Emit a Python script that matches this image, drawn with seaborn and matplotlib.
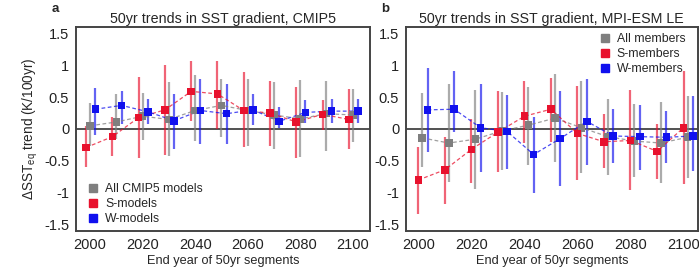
import numpy as np
import pandas as pd
import seaborn as sns
import matplotlib
matplotlib.use("Agg")
import matplotlib.pyplot as plt
from matplotlib.lines import Line2D
from matplotlib.ticker import MultipleLocator, FormatStrFormatter

years = [2000, 2010, 2020, 2030, 2040, 2050, 2060, 2070, 2080, 2090, 2100]

# panel a, CMIP5: central value, lower and upper end of the bar
cmip_all = [0.05, 0.11, 0.20, 0.15, 0.29, 0.37, 0.29, 0.22, 0.16, 0.24, 0.22]
cmip_all_lo = [-0.26, -0.15, -0.18, -0.43, -0.19, -0.12, -0.27, -0.31, -0.44, -0.34, -0.20]
cmip_all_hi = [0.40, 0.55, 0.57, 0.73, 0.85, 0.78, 0.78, 0.73, 0.77, 0.75, 0.63]
cmip_s = [-0.29, -0.12, 0.18, 0.30, 0.59, 0.55, 0.29, 0.25, 0.11, 0.23, 0.15]
cmip_s_lo = [-0.60, -0.42, -0.46, -0.41, 0.12, 0.00, -0.29, -0.27, -0.45, -0.02, -0.31]
cmip_s_hi = [0.05, 0.19, 0.82, 1.01, 1.06, 1.06, 0.89, 0.76, 0.66, 0.45, 0.63]
cmip_w = [0.31, 0.37, 0.27, 0.13, 0.29, 0.24, 0.30, 0.12, 0.26, 0.28, 0.28]
cmip_w_lo = [-0.10, 0.08, 0.08, -0.31, -0.24, -0.23, 0.06, 0.01, 0.09, 0.09, 0.09]
cmip_w_hi = [0.65, 0.60, 0.47, 0.55, 0.78, 0.70, 0.55, 0.35, 0.46, 0.47, 0.47]

# panel b, MPI-ESM large ensemble
mpi_all = [-0.14, -0.22, -0.16, -0.03, 0.06, 0.17, 0.02, -0.12, -0.19, -0.22, -0.13]
mpi_all_lo = [-0.60, -0.83, -0.94, -0.64, -0.56, -0.51, -0.69, -0.72, -0.75, -0.84, -0.77]
mpi_all_hi = [0.56, 0.70, 0.61, 0.58, 0.66, 0.87, 0.75, 0.47, 0.39, 0.43, 0.52]
mpi_s = [-0.80, -0.64, -0.32, -0.05, 0.20, 0.31, -0.07, -0.20, -0.18, -0.35, 0.02]
mpi_s_lo = [-1.34, -1.17, -0.84, -0.68, -0.22, -0.20, -0.80, -0.61, -0.95, -0.79, -0.86]
mpi_s_hi = [-0.28, -0.12, 0.16, 0.60, 0.75, 0.80, 0.68, 0.24, 0.61, 0.08, 0.91]
mpi_w = [0.30, 0.31, 0.02, -0.04, -0.40, -0.15, 0.12, -0.11, -0.12, -0.13, -0.11]
mpi_w_lo = [-0.36, -0.05, -0.68, -0.63, -1.00, -0.90, -0.56, -0.54, -0.64, -0.54, -0.66]
mpi_w_hi = [0.96, 0.91, 0.71, 0.54, 0.19, 0.60, 0.78, 0.32, 0.37, 0.28, 0.51]

colors = {'all': '#7f7f7f', 's': '#e8112d', 'w': '#1010ee'}


def make_frame(groups):
    rows = []
    for key, mid, lo, hi in groups:
        for y, m, l, h in zip(years, mid, lo, hi):
            rows.append({'year': y, 'group': key, 'mid': m, 'lo': l, 'hi': h})
    return pd.DataFrame(rows)


def draw_panel(ax, df, offsets, labels, title, letter, legend_loc, legend_anchor, xlim):
    for key in ['all', 's', 'w']:
        d = df[df['group'] == key].copy()
        d['x'] = d['year'] + offsets[key]
        ax.vlines(d['x'], d['lo'], d['hi'], color=colors[key], alpha=0.65, linewidth=1.6, zorder=2)
        sns.lineplot(data=d, x='x', y='mid', ax=ax, color=colors[key], linestyle=(0, (3, 2)),
                     linewidth=0.9, alpha=0.75, zorder=3)
    for key in ['all', 's', 'w']:
        d = df[df['group'] == key].copy()
        d['x'] = d['year'] + offsets[key]
        sns.scatterplot(data=d, x='x', y='mid', ax=ax, color=colors[key], marker='s', s=30,
                        edgecolor='none', zorder=4)
    ax.axhline(0, color='#333333', linewidth=1.2, zorder=1)
    ax.set_xlim(*xlim)
    ax.set_ylim(-1.6, 1.6)
    ax.set_xticks(range(2000, 2101, 20))
    ax.xaxis.set_minor_locator(MultipleLocator(10))
    ax.yaxis.set_major_locator(MultipleLocator(0.5))
    ax.yaxis.set_major_formatter(FormatStrFormatter('%g'))
    ax.tick_params(axis='both', which='both', direction='out', length=3, width=1.0,
                   labelsize=10.5, pad=2, labelcolor='#222222')
    ax.tick_params(axis='x', which='minor', length=3)
    for sp in ax.spines.values():
        sp.set_color('#444444')
        sp.set_linewidth(1.4)
    ax.set_xlabel('End year of 50yr segments', fontsize=9.2, labelpad=2)
    ax.set_ylabel('')
    ax.set_title(title, fontsize=10.3, pad=3)
    ax.text(-0.085, 1.06, letter, transform=ax.transAxes, fontsize=9.5, fontweight='bold',
            ha='left', va='bottom')
    handles = [Line2D([], [], marker='s', linestyle='none', color=colors[k], markersize=5.5)
               for k in ['all', 's', 'w']]
    ax.legend(handles, labels, loc=legend_loc, bbox_to_anchor=legend_anchor, frameon=False,
              fontsize=8.8, handlelength=1.0, handletextpad=0.5, labelspacing=0.25,
              borderaxespad=0.6)


sns.set_style("white")
plt.rcParams['font.family'] = ['Liberation Sans', 'DejaVu Sans']
plt.rcParams['axes.unicode_minus'] = False

fig = plt.figure(figsize=(6.99, 2.78), dpi=100)
ax_a = fig.add_axes([0.109, 0.169, 0.42, 0.734])
ax_b = fig.add_axes([0.581, 0.169, 0.417, 0.734])

df_a = make_frame([('all', cmip_all, cmip_all_lo, cmip_all_hi),
                   ('s', cmip_s, cmip_s_lo, cmip_s_hi),
                   ('w', cmip_w, cmip_w_lo, cmip_w_hi)])
df_b = make_frame([('all', mpi_all, mpi_all_lo, mpi_all_hi),
                   ('s', mpi_s, mpi_s_lo, mpi_s_hi),
                   ('w', mpi_w, mpi_w_lo, mpi_w_hi)])

draw_panel(ax_a, df_a, {'s': -1.5, 'all': 0.0, 'w': 2.0},
           ['All CMIP5 models', 'S-models', 'W-models'],
           '50yr trends in SST gradient, CMIP5', 'a', 'lower left', (-0.005, -0.03),
           (1994.7, 2106.5))
draw_panel(ax_b, df_b, {'s': 0.0, 'all': 1.5, 'w': 3.5},
           ['All members', 'S-members', 'W-members'],
           '50yr trends in SST gradient, MPI-ESM LE', 'b', 'upper right', (1.0, 1.03),
           (1995.4, 2105.3))

ax_a.set_ylabel('ΔSST$_{\\mathregular{eq}}$ trend (K/100yr)', fontsize=9.8, labelpad=3)

fig.savefig('out.png', dpi=100)
